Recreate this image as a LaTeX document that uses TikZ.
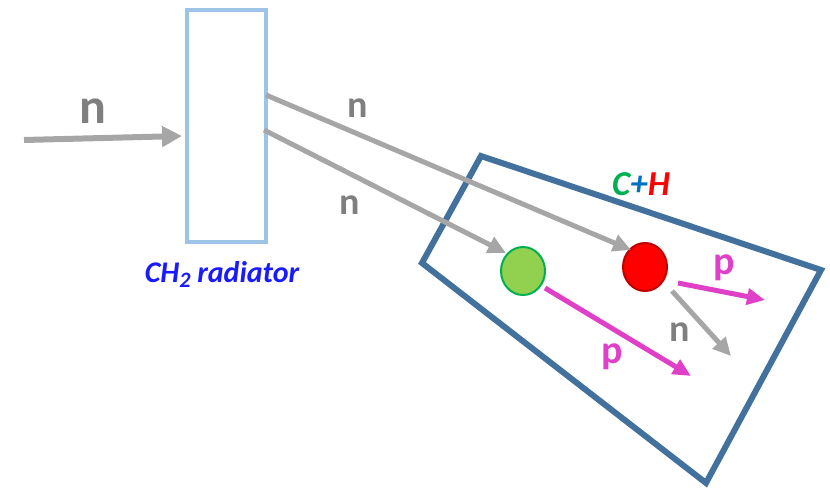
\documentclass[tikz,border=0pt]{standalone}
\usepackage{fontspec}
\setmainfont{Carlito}
\usetikzlibrary{arrows.meta,shapes.geometric}
\definecolor{ngray}{HTML}{A6A6A6}
\definecolor{ntext}{HTML}{7F7F7F}
\definecolor{radblue}{HTML}{9DC3E6}
\definecolor{detblue}{HTML}{41719C}
\definecolor{pmag}{HTML}{E040C8}
\definecolor{cgreen}{HTML}{00B050}
\definecolor{hblue}{HTML}{0070C0}
\definecolor{lgreen}{HTML}{92D050}
\definecolor{dred}{HTML}{C00000}
\definecolor{radtext}{HTML}{1A1AFF}
\tikzset{
  narrow/.style={draw=ngray, line width=5pt, -{Triangle[length=18pt,width=17pt]}},
  parrow/.style={draw=pmag, line width=5pt, -{Triangle[length=18pt,width=16pt]}},
  nlabel/.style={text=ntext, font=\fontsize{38}{40}\selectfont\bfseries, inner sep=0pt},
  plabel/.style={text=pmag, font=\fontsize{40}{42}\selectfont\bfseries, inner sep=0pt},
  particle/.style={ellipse, minimum width=44pt, minimum height=48pt, line width=2pt, inner sep=0pt}
}
\begin{document}
\begin{tikzpicture}[x=1pt,y=-1pt]
\useasboundingbox (0,0) rectangle (830,489);
% radiator
\node[draw=radblue, line width=4pt, minimum width=79pt, minimum height=232pt, inner sep=0pt] (rad) at (226.5,126) {};
\node[text=radtext, font=\fontsize{30}{32}\selectfont\bfseries\itshape, inner sep=0pt] (radlabel) at (222,274) {CH\raisebox{-5pt}{\fontsize{22}{24}\selectfont 2} radiator};
% detector
\coordinate (d1) at (481,156);
\coordinate (d2) at (821,270);
\coordinate (d3) at (706,483);
\coordinate (d4) at (422,263);
\draw[detblue, line width=6pt, line join=miter] (d1) -- (d2) -- (d3) -- (d4) -- cycle;
\node[font=\fontsize{35}{37}\selectfont\bfseries\itshape, inner sep=0pt] (ch) at (641,184) {\textcolor{cgreen}{C}\textcolor{hblue}{+}\textcolor{red}{H}};
% particles
\node[particle, draw=cgreen, fill=lgreen] (carbon) at (523,271) {};
\node[particle, draw=dred, fill=red] (hydrogen) at (645,267) {};
% incoming neutron
\coordinate (nin) at (24,140);
\coordinate (nradin) at (182,136);
\draw[draw=ngray, line width=6pt, -{Triangle[length=20pt,width=20pt]}] (nin) -- (nradin);
\node[nlabel, font=\fontsize{50}{52}\selectfont\bfseries] (n0) at (93,111) {n};
% scattered neutrons
\coordinate (nu0) at (266,95);
\coordinate (nu1) at (631,250);
\draw[narrow] (nu0) -- (nu1);
\node[nlabel] (n1) at (358,108) {n};
\coordinate (nl0) at (264,130);
\coordinate (nl1) at (506,253);
\draw[narrow] (nl0) -- (nl1);
\node[nlabel] (n2) at (350,205) {n};
% products
\coordinate (pc0) at (545,288);
\coordinate (pc1) at (691,376);
\draw[parrow] (pc0) -- (pc1);
\node[plabel] (p1) at (612,357) {p};
\coordinate (ph0) at (678,283);
\coordinate (ph1) at (765,300);
\draw[parrow] (ph0) -- (ph1);
\node[plabel] (p2) at (724,268) {p};
\coordinate (nh0) at (672,291);
\coordinate (nh1) at (731,356);
\draw[narrow] (nh0) -- (nh1);
\node[nlabel] (n3) at (680,332) {n};
\end{tikzpicture}
\end{document}
